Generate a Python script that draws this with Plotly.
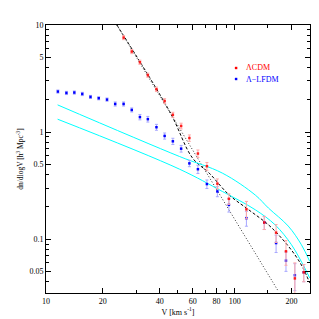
import plotly.graph_objects as go

# ---- data ----
v_blue = [11.56, 12.83, 14.13, 15.57, 17.21, 19.02, 21.05, 23.26, 25.77, 28.46,
          31.45, 34.64, 38.48, 42.52, 47.0, 52.0, 57.5, 63.8, 71.2, 80.9,
          93.1, 115.3, 143.3, 165.6, 186.8, 208.2, 232.1]
n_blue = [2.39, 2.32, 2.34, 2.27, 2.13, 2.07, 2.01, 1.83, 1.83, 1.61,
          1.38, 1.32, 1.11, 0.92, 0.82, 0.70, 0.51, 0.45, 0.327, 0.279,
          0.209, 0.157, 0.143, 0.092, 0.063, 0.046, 0.049]
e_blue = [0.08, 0.08, 0.08, 0.08, 0.07, 0.07, 0.07, 0.08, 0.08, 0.07,
          0.08, 0.08, 0.07, 0.06, 0.055, 0.05, 0.035, 0.04, 0.03, 0.03,
          0.03, 0.025, 0.02, 0.017, 0.013, 0.013, 0.009]

v_red = [25.77, 28.46, 31.45, 34.64, 38.48, 42.52, 47.0, 52.0, 57.5, 63.8,
         71.2, 80.9, 93.1, 115.3, 143.3, 165.6, 186.8, 208.2, 232.1]
n_red = [7.63, 5.65, 4.49, 3.40, 2.51, 1.95, 1.45, 1.14, 0.88, 0.63,
         0.48, 0.33, 0.238, 0.19, 0.143, 0.115, 0.077, 0.043, 0.049]
e_red = [0.33, 0.25, 0.2, 0.15, 0.12, 0.1, 0.08, 0.07, 0.06, 0.05,
         0.04, 0.035, 0.027, 0.035, 0.02, 0.022, 0.02, 0.017, 0.009]

v_dash = [23.74, 45.2, 59.8, 73.2, 93.1, 118.6, 150.9, 177.1, 208.2, 230.1, 249.5]
n_dash = [10.0, 1.556, 0.571, 0.414, 0.260, 0.188, 0.136, 0.102, 0.0715, 0.0537, 0.0389]

v_dot = [23.74, 170.2]
n_dot = [10.0, 0.0326]

v_cyan_hi = [11.52, 50.9, 85.9, 128.5, 150.9, 192.0, 225.5, 249.5]
n_cyan_hi = [1.794, 0.592, 0.414, 0.258, 0.195, 0.1325, 0.0887, 0.0621]
v_cyan_lo = [11.52, 50.9, 85.9, 128.5, 163.6, 199.8, 234.9, 249.5]
n_cyan_lo = [1.319, 0.451, 0.279, 0.188, 0.136, 0.0887, 0.0537, 0.0434]

x_ticks = [10, 20, 40, 60, 80, 100, 200]
x_minor = [30, 50, 70, 90, 150]
y_ticks = [0.05, 0.1, 0.5, 1, 5, 10]
y_ticklabels = ["0.05", "0.1", "0.5", "1", "5", "10"]
y_minor = [0.04, 0.06, 0.07, 0.08, 0.09, 0.2, 0.3, 0.4, 0.6, 0.7, 0.8, 0.9,
           2, 3, 4, 6, 7, 8, 9]

FONT = "Liberation Serif"

fig = go.Figure()
fig.add_trace(go.Scatter(x=v_dot, y=n_dot, mode="lines",
                         line=dict(color="#333333", width=1, dash="1px,2px")))
fig.add_trace(go.Scatter(x=v_dash, y=n_dash, mode="lines", line_shape="spline",
                         line=dict(color="black", width=1, dash="3px,2px")))
fig.add_trace(go.Scatter(x=v_cyan_hi, y=n_cyan_hi, mode="lines", line_shape="spline",
                         line=dict(color="#00ffff", width=1)))
fig.add_trace(go.Scatter(x=v_cyan_lo, y=n_cyan_lo, mode="lines", line_shape="spline",
                         line=dict(color="#00ffff", width=1)))
fig.add_trace(go.Scatter(x=v_blue, y=n_blue, mode="markers",
                         marker=dict(symbol="square", size=2.5, color="#0000ff"),
                         error_y=dict(type="data", array=e_blue, color="#a8a8ff",
                                      thickness=1, width=1.5)))
fig.add_trace(go.Scatter(x=v_red, y=n_red, mode="markers",
                         marker=dict(symbol="square", size=2.5, color="#ff0000", opacity=0.85),
                         error_y=dict(type="data", array=e_red, color="#ffa8a8",
                                      thickness=1, width=1.5)))

L, R, T, B = 35, 17, 17, 34
W = H = 319
pw, ph = W - L - R, H - T - B


def px(xp):
    return (xp - L) / pw


def py(yp):
    return (H - B - yp) / ph


shapes = [
    dict(type="rect", xref="paper", yref="paper", x0=px(226), x1=px(228.5),
         y0=py(61.2), y1=py(58.8), fillcolor="#ff0000", line=dict(width=0)),
    dict(type="rect", xref="paper", yref="paper", x0=px(226), x1=px(228.5),
         y0=py(72.2), y1=py(69.8), fillcolor="#0000ff", line=dict(width=0)),
]
annotations = [
    dict(xref="paper", yref="paper", x=px(235), y=py(60), xanchor="left", yanchor="middle",
         text="ΛCDM", showarrow=False, font=dict(family=FONT, size=8, color="#ff0000")),
    dict(xref="paper", yref="paper", x=px(235), y=py(71), xanchor="left", yanchor="middle",
         text="Λ−LFDM", showarrow=False, font=dict(family=FONT, size=8, color="#0000ff")),
]

fig.update_layout(
    width=W, height=H, margin=dict(l=L, r=R, t=T, b=B),
    paper_bgcolor="white", plot_bgcolor="white", showlegend=False,
    font=dict(family=FONT, size=8, color="black"),
    shapes=shapes, annotations=annotations,
)
fig.update_xaxes(
    type="log", range=[1, 2.3987], tickvals=x_ticks, ticktext=[str(t) for t in x_ticks],
    ticks="inside", ticklen=5, tickcolor="black", showline=True, linecolor="black",
    linewidth=1, mirror="ticks", showgrid=False, zeroline=False,
    minor=dict(tickvals=x_minor, ticks="inside", ticklen=3, tickcolor="black", showgrid=False),
    title=dict(text="V [km s<sup>-1</sup>]", standoff=4, font=dict(family=FONT, size=8)),
    tickfont=dict(family=FONT, size=8),
)
fig.update_yaxes(
    type="log", range=[-1.503, 1], tickvals=y_ticks, ticktext=y_ticklabels,
    ticks="inside", ticklen=5, tickcolor="black", showline=True, linecolor="black",
    linewidth=1, mirror="ticks", showgrid=False, zeroline=False,
    minor=dict(tickvals=y_minor, ticks="inside", ticklen=3, tickcolor="black", showgrid=False),
    title=dict(text="dn/dlogV [h<sup>3</sup> Mpc<sup>-3</sup>]", standoff=4,
               font=dict(family=FONT, size=7.5)),
    tickfont=dict(family=FONT, size=8),
)

fig.write_html("out.html")
